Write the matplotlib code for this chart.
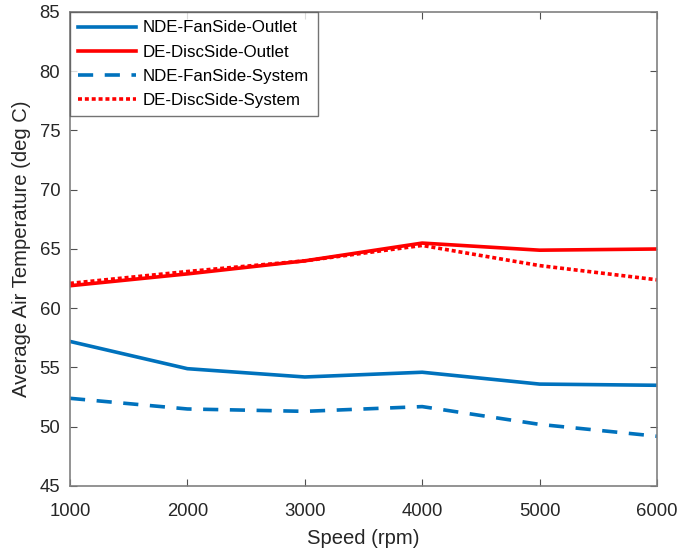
import numpy as np
import matplotlib
matplotlib.use("Agg")
import matplotlib.pyplot as plt

plt.rcParams['font.family'] = ['Liberation Sans', 'DejaVu Sans']

# speed sweep and average air temperatures (deg C)
speed = [1000, 2000, 3000, 4000, 5000, 6000]
nde_outlet = [57.2, 54.9, 54.2, 54.6, 53.6, 53.5]
de_outlet = [61.9, 62.9, 64.0, 65.5, 64.9, 65.0]
nde_system = [52.4, 51.5, 51.3, 51.7, 50.2, 49.2]
de_system = [62.1, 63.1, 64.0, 65.3, 63.6, 62.4]

blue = '#0072BD'
red = '#FF0000'
txt = '#262626'

fig = plt.figure(figsize=(6.8, 5.49), dpi=100)
ax = fig.add_axes([70/680, 63/549, 587/680, 474/549])

lw = 2.6
ax.plot(speed, nde_outlet, color=blue, lw=lw, label='NDE-FanSide-Outlet')
ax.plot(speed, de_outlet, color=red, lw=lw, label='DE-DiscSide-Outlet')
ax.plot(speed, nde_system, color=blue, lw=lw, ls=(0, (4.2, 3.2)), label='NDE-FanSide-System')
ax.plot(speed, de_system, color=red, lw=lw, ls=(0, (1.1, 0.8)), label='DE-DiscSide-System')

ax.set_xlim(1000, 6000)
ax.set_ylim(45, 85)
ax.set_xticks(np.arange(1000, 6001, 1000))
ax.set_yticks(np.arange(45, 86, 5))
ax.set_xlabel('Speed (rpm)', fontsize=14.6, color=txt, labelpad=7)
ax.set_ylabel('Average Air Temperature (deg C)', fontsize=14.6, color=txt, labelpad=6)

for s in ax.spines.values():
    s.set_color('#808080')
    s.set_linewidth(1.2)
ax.tick_params(direction='in', length=5, color='#505050', labelsize=13.3,
               labelcolor=txt, top=True, right=True)
ax.tick_params(axis='x', pad=12)
ax.tick_params(axis='y', pad=7)

leg = ax.legend(loc='upper left', fontsize=12.2, frameon=True, fancybox=False,
                borderaxespad=0, handlelength=3.4, handletextpad=0.4,
                labelspacing=0.54, borderpad=0.5)
leg.get_frame().set_edgecolor('#505050')
leg.get_frame().set_linewidth(1.0)

fig.savefig('out.png', dpi=100)
